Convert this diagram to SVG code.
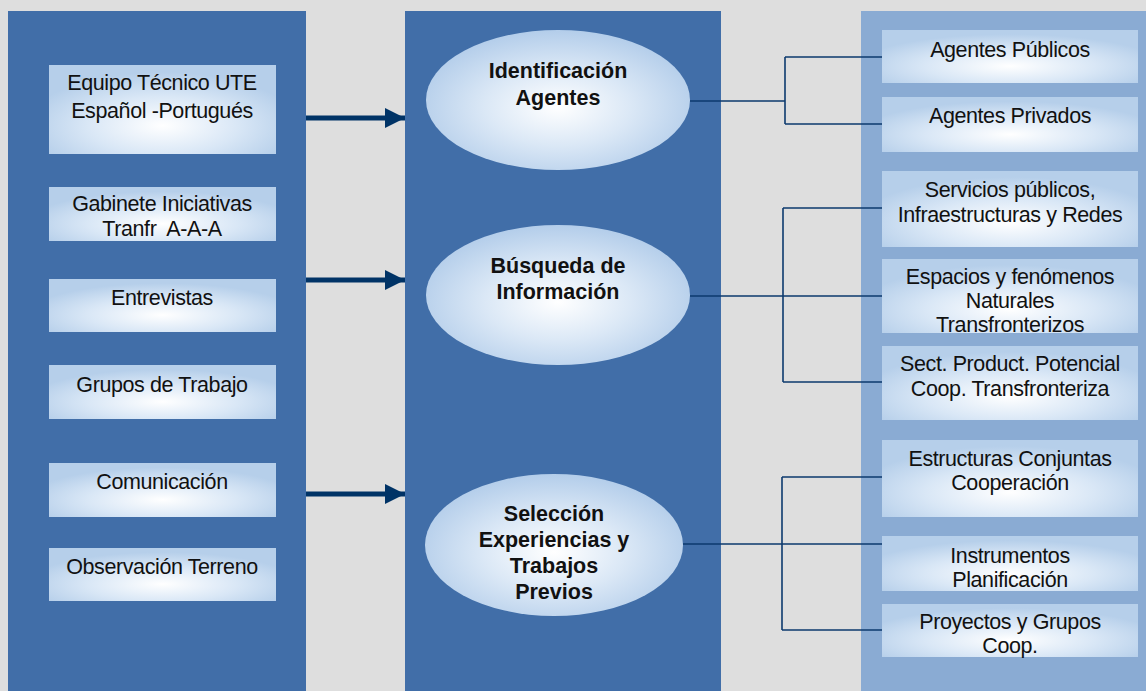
<svg xmlns="http://www.w3.org/2000/svg" width="1146" height="691" viewBox="0 0 1146 691">
<defs>
<radialGradient id="gBox" cx="50%" cy="68%" r="60%" fx="50%" fy="68%">
<stop offset="0" stop-color="#ffffff"/>
<stop offset="0.55" stop-color="#d9e7f6"/>
<stop offset="1" stop-color="#b6cfea"/>
</radialGradient>
<radialGradient id="gEll" cx="50%" cy="55%" r="55%">
<stop offset="0" stop-color="#ffffff"/>
<stop offset="0.5" stop-color="#dbe8f6"/>
<stop offset="1" stop-color="#b3cdea"/>
</radialGradient>
<marker id="ah" viewBox="0 0 10 10" refX="10" refY="5" markerWidth="4.4" markerHeight="4" orient="auto" markerUnits="strokeWidth">
<path d="M0,0 L10,5 L0,10 Z" fill="#003366"/>
</marker>
</defs>
<style>
.box{fill:url(#gBox)}
.ell{fill:url(#gEll)}
.t{font-family:"Liberation Sans",Arial,sans-serif;font-size:21.5px;letter-spacing:-0.4px;fill:#111;text-anchor:middle}
.tb{font-family:"Liberation Sans",Arial,sans-serif;font-size:21.5px;font-weight:bold;fill:#111;text-anchor:middle}
.arrow{stroke:#003366;stroke-width:5;fill:none}
.conn{stroke:#0d3a6e;stroke-width:1.6;fill:none}
</style>
<rect x="0" y="0" width="1146" height="691" fill="#dedede"/>
<g id="panels">
<rect x="8" y="11" width="298" height="680" fill="#416ea8"/>
<rect x="405" y="11" width="316" height="680" fill="#416ea8"/>
<rect x="861" y="11" width="285" height="680" fill="#8aabd3"/>
</g>
<g id="connectors">
<line class="arrow" x1="306" y1="118" x2="405" y2="118" marker-end="url(#ah)"/>
<line class="arrow" x1="306" y1="280" x2="405" y2="280" marker-end="url(#ah)"/>
<line class="arrow" x1="306" y1="494" x2="405" y2="494" marker-end="url(#ah)"/>
<path class="conn" d="M690,101 H785 M785,57 V124 M785,57 H882 M785,124 H882"/>
<path class="conn" d="M690,296 H882 M783,208 V382 M783,208 H882 M783,382 H882"/>
<path class="conn" d="M683,544 H882 M782,477 V630 M782,477 H882 M782,630 H882"/>
</g>
<g id="n-equipo"><rect class="box" x="49" y="65" width="227" height="89"/><text class="t" x="162" y="90">Equipo Técnico UTE</text><text class="t" x="162" y="118">Español -Portugués</text></g>
<g id="n-gabinete"><rect class="box" x="49" y="187" width="227" height="54"/><text class="t" x="162" y="211">Gabinete Iniciativas</text><text class="t" x="162" y="236" xml:space="preserve">Tranfr  A-A-A</text></g>
<g id="n-entrevistas"><rect class="box" x="49" y="279" width="227" height="53"/><text class="t" x="162" y="305">Entrevistas</text></g>
<g id="n-grupos"><rect class="box" x="49" y="365" width="227" height="54"/><text class="t" x="162" y="392">Grupos de Trabajo</text></g>
<g id="n-comunicacion"><rect class="box" x="49" y="463" width="227" height="54"/><text class="t" x="162" y="489">Comunicación</text></g>
<g id="n-observacion"><rect class="box" x="49" y="548" width="227" height="53"/><text class="t" x="162" y="574">Observación Terreno</text></g>
<g id="n-identificacion"><ellipse class="ell" cx="558" cy="100" rx="132" ry="70"/><text class="tb" x="558" y="78">Identificación</text><text class="tb" x="558" y="105">Agentes</text></g>
<g id="n-busqueda"><ellipse class="ell" cx="558" cy="295" rx="132" ry="70"/><text class="tb" x="558" y="273">Búsqueda de</text><text class="tb" x="558" y="299">Información</text></g>
<g id="n-seleccion"><ellipse class="ell" cx="554" cy="545" rx="129" ry="71"/><text class="tb" x="554" y="521">Selección</text><text class="tb" x="554" y="547">Experiencias y</text><text class="tb" x="554" y="573">Trabajos</text><text class="tb" x="554" y="599">Previos</text></g>
<g id="n-publicos"><rect class="box" x="882" y="30" width="256" height="53"/><text class="t" x="1010" y="57">Agentes Públicos</text></g>
<g id="n-privados"><rect class="box" x="882" y="97" width="256" height="55"/><text class="t" x="1010" y="123">Agentes Privados</text></g>
<g id="n-servicios"><rect class="box" x="882" y="171" width="256" height="76"/><text class="t" x="1010" y="197">Servicios públicos,</text><text class="t" x="1010" y="222">Infraestructuras y Redes</text></g>
<g id="n-espacios"><rect class="box" x="882" y="259" width="256" height="74"/><text class="t" x="1010" y="284">Espacios y fenómenos</text><text class="t" x="1010" y="308">Naturales</text><text class="t" x="1010" y="332">Transfronterizos</text></g>
<g id="n-sect"><rect class="box" x="882" y="346" width="256" height="74"/><text class="t" x="1010" y="371">Sect. Product. Potencial</text><text class="t" x="1010" y="396">Coop. Transfronteriza</text></g>
<g id="n-estructuras"><rect class="box" x="882" y="440" width="256" height="77"/><text class="t" x="1010" y="466">Estructuras Conjuntas</text><text class="t" x="1010" y="490">Cooperación</text></g>
<g id="n-instrumentos"><rect class="box" x="882" y="536" width="256" height="55"/><text class="t" x="1010" y="563">Instrumentos</text><text class="t" x="1010" y="587">Planificación</text></g>
<g id="n-proyectos"><rect class="box" x="882" y="604" width="256" height="53"/><text class="t" x="1010" y="629">Proyectos y Grupos</text><text class="t" x="1010" y="653">Coop.</text></g>
</svg>
